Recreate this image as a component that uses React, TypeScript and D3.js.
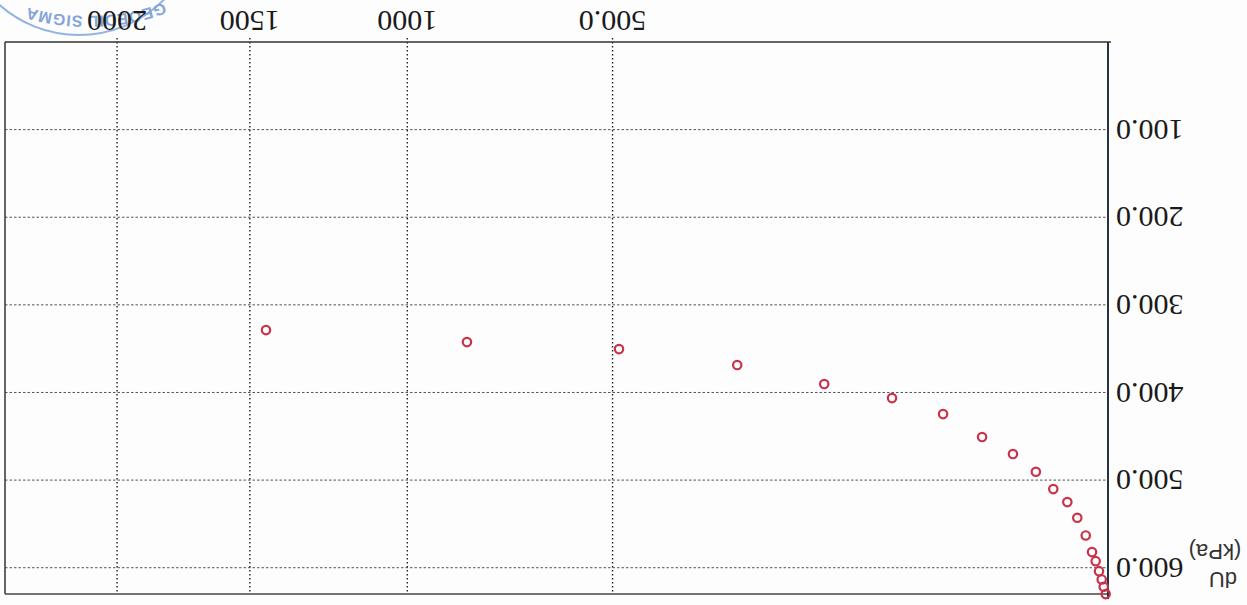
import React from "react";
import * as d3 from "d3";

// Values read from the (upside-down) reference chart
const stressValues: number[] = [1444, 837, 487, 280, 164, 95, 55.4, 32.3, 18.4, 10.6, 6.1, 3.37, 1.92, 1.01, 0.52, 0.31, 0.165, 0.081, 0.038, 0.011];
const duValues: number[] = [328.8, 342.5, 350.5, 368.7, 390.4, 406.4, 424.7, 450.9, 470.3, 490.5, 510.3, 525.1, 543.0, 563.2, 582.2, 592.5, 603.9, 613.4, 621.8, 630.1];
const xTicks: number[] = [500, 1000, 1500, 2000];
const xTickLabels: string[] = ["500.0", "1000", "1500", "2000"];
const yTicks: number[] = [100, 200, 300, 400, 500, 600];
const yTickLabels: string[] = ["100.0", "200.0", "300.0", "400.0", "500.0", "600.0"];
const yTitle: string[] = ["dU", "(kPa)"];
const stampText = "GEOEDIL SIGMA";

const W = 1247;
const H = 605;

export default function App() {
  const left = 5, right = 1108, top = 42, bottom = 594;
  const x = d3.scaleSqrt().domain([0, 2478]).range([right, left]);
  const y = d3.scaleLinear().domain([0, 630]).range([top, bottom]);
  const pts = stressValues.map((v, i) => ({ sx: x(v), sy: y(duValues[i]) }));

  // stamp geometry (decoration)
  const ringC = { x: 79, y: -85, r: 120 };
  const ec = { x: 88, y: -84, rx: 150, ry: 100 };
  const tStart = (10 * Math.PI) / 180, tEnd = (170 * Math.PI) / 180, tText = (115 * Math.PI) / 180;
  const samples: [number, number][] = d3.range(0, 161).map((k) => {
    const t = tStart + ((tEnd - tStart) * k) / 160;
    return [ec.x + ec.rx * Math.cos(t), ec.y + ec.ry * Math.sin(t)];
  });
  let offset = 0;
  for (let k = 1; k < samples.length; k++) {
    const t = tStart + ((tEnd - tStart) * k) / 160;
    if (t > tText) break;
    offset += Math.hypot(samples[k][0] - samples[k - 1][0], samples[k][1] - samples[k - 1][1]);
  }
  const textArc = d3.line()(samples) || "";

  const serif = "'Liberation Serif', 'Times New Roman', serif";
  const sans = "'Liberation Sans', Arial, sans-serif";

  return (
    <svg width={W} height={H} style={{ position: "fixed", left: 0, top: 0, background: "#fdfdfd" }}>
      <rect x={0} y={0} width={W} height={H} fill="#fdfdfd" />
      {/* stamp */}
      <g opacity={0.75}>
        <circle cx={ringC.x} cy={ringC.y} r={ringC.r} fill="none" stroke="#6f9ad6" strokeWidth={2} />
        <path id="stampArc" d={textArc} fill="none" stroke="none" />
        <text fontFamily={sans} fontWeight="bold" fontSize={16} fill="#5a88cc" letterSpacing={0.8} textAnchor="end">
          <textPath href="#stampArc" startOffset={offset}>{stampText}</textPath>
        </text>
      </g>
      {/* horizontal grid */}
      {yTicks.map((t) => (
        <line key={"hy" + t} x1={left} x2={right} y1={y(t)} y2={y(t)} stroke="#555" strokeWidth={1} strokeDasharray="2.5,2" />
      ))}
      {/* vertical grid */}
      {xTicks.map((t) => (
        <line key={"vx" + t} x1={x(t)} x2={x(t)} y1={top - 4} y2={bottom} stroke="#222" strokeWidth={1.4} strokeDasharray="1.5,2.5" />
      ))}
      {/* frame */}
      <line x1={left} x2={right + 3} y1={top} y2={top} stroke="#333" strokeWidth={1.5} />
      <line x1={left} x2={left} y1={top} y2={bottom} stroke="#333" strokeWidth={1.5} />
      <line x1={left} x2={right} y1={bottom} y2={bottom} stroke="#444" strokeWidth={1.5} />
      <line x1={right} x2={right} y1={top} y2={bottom + 5} stroke="#223344" strokeWidth={2} />
      {/* x tick labels (upside down) */}
      {xTicks.map((t, i) => (
        <text key={"xl" + t} x={x(t)} y={21} dy="0.33em" textAnchor="middle" fontFamily={serif} fontSize={30} fill="#1a1a1a"
          transform={`rotate(180 ${x(t)} 21)`}>{xTickLabels[i]}</text>
      ))}
      {/* y tick labels (upside down) */}
      {yTicks.map((t, i) => (
        <text key={"yl" + t} x={1116} y={y(t)} dy="0.33em" textAnchor="end" fontFamily={serif} fontSize={30} fill="#1a1a1a"
          transform={`rotate(180 1116 ${y(t)})`}>{yTickLabels[i]}</text>
      ))}
      {/* y title */}
      <text x={1223} y={580} dy="0.35em" textAnchor="middle" fontFamily={sans} fontSize={22} fill="#333"
        transform="rotate(180 1223 580)">{yTitle[0]}</text>
      <text x={1215} y={552} dy="0.35em" textAnchor="middle" fontFamily={sans} fontSize={22} fill="#333"
        transform="rotate(180 1215 552)">{yTitle[1]}</text>
      {/* points */}
      {pts.map((p, i) => (
        <circle key={"p" + i} cx={p.sx} cy={p.sy} r={4.2} fill="none" stroke="#c8324a" strokeWidth={2.2} />
      ))}
    </svg>
  );
}
